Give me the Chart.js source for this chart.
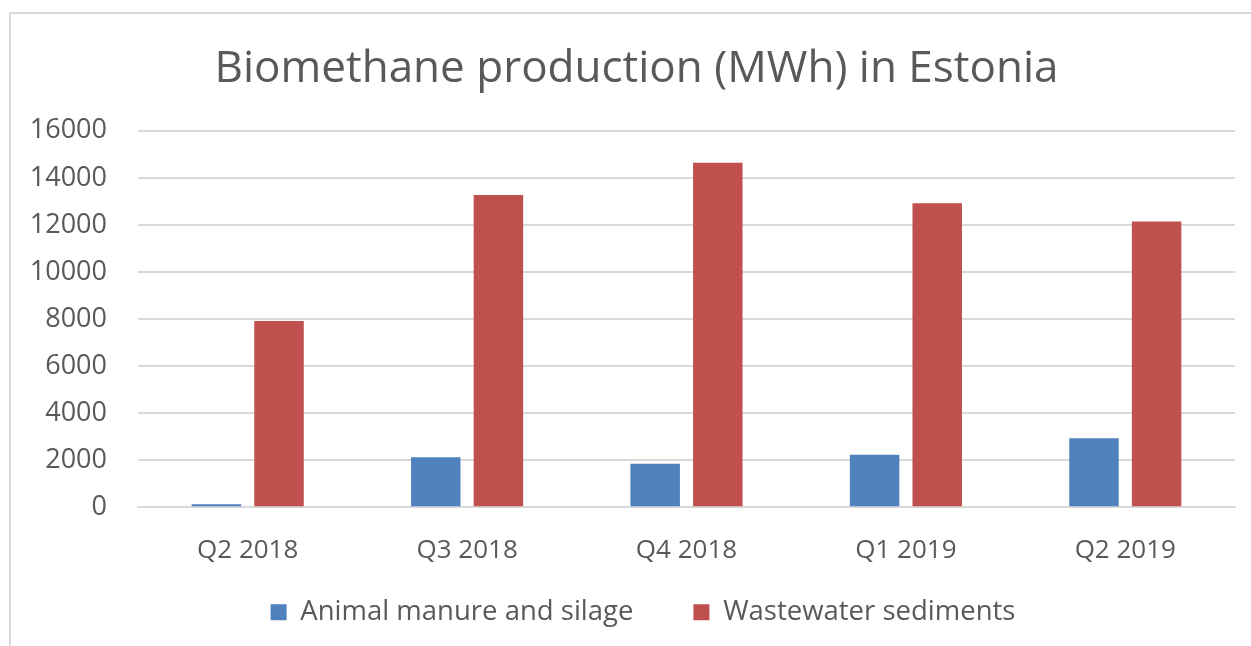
<!DOCTYPE html>
<html>
<head>
<meta charset="utf-8">
<script src="https://cdn.jsdelivr.net/npm/chart.js@4.4.0/dist/chart.umd.min.js"></script>
<style>
  html, body { margin: 0; padding: 0; background: #ffffff; }
  #wrap { position: absolute; left: 0; top: 0; width: 1251px; height: 646px; overflow: hidden; }
  #frame { position: absolute; left: 9px; top: 12px; width: 1260px; height: 660px; border: 2px solid #d9d9d9; box-sizing: border-box; }
  canvas { position: absolute; left: 0; top: 0; }
</style>
</head>
<body>
<div id="wrap">
  <div id="frame"></div>
  <canvas id="c" width="1251" height="646"></canvas>
</div>
<script>
const categories = ["Q2 2018", "Q3 2018", "Q4 2018", "Q1 2019", "Q2 2019"];
const manureSilage = [130, 2130, 1850, 2230, 2930];
const wastewaterSediments = [7920, 13270, 14640, 12920, 12150];
const yTicks = [0, 2000, 4000, 6000, 8000, 10000, 12000, 14000, 16000];

const FONT = "'Open Sans', 'Noto Sans', sans-serif";
const TEXT = "#595959";
const LEGEND_SHRINK = 56;

// Tighten the legend's reserved height and center title/legend on the frame
const arrange = {
  id: 'arrange',
  beforeLayout(chart) {
    const lg = chart.legend;
    if (lg && !lg._wrapped) {
      const fit = lg.fit;
      lg.fit = function () { fit.call(this); this.height -= LEGEND_SHRINK; };
      lg._wrapped = true;
    }
  },
  afterLayout(chart) {
    if (chart.titleBlock) { chart.titleBlock.left = 38; chart.titleBlock.right = 1235; }
    if (chart.legend) {
      chart.legend.left = 51; chart.legend.right = 1235;
      chart.legend.top -= LEGEND_SHRINK;
    }
  }
};

new Chart(document.getElementById('c'), {
  type: 'bar',
  data: {
    labels: categories,
    datasets: [
      { label: "Animal manure and silage", data: manureSilage, backgroundColor: "#4f81bd",
        categoryPercentage: 0.571, barPercentage: 0.79 },
      { label: "Wastewater sediments", data: wastewaterSediments, backgroundColor: "#c0504d",
        categoryPercentage: 0.571, barPercentage: 0.79 }
    ]
  },
  plugins: [arrange],
  options: {
    responsive: false,
    animation: false,
    devicePixelRatio: 1,
    layout: { padding: { left: 0, right: 16, top: 0, bottom: 10 } },
    plugins: {
      title: {
        display: true,
        text: "Biomethane production (MWh) in Estonia",
        color: TEXT,
        font: { family: FONT, size: 44, weight: 'normal' },
        padding: { top: 43, bottom: 35 }
      },
      legend: {
        position: 'bottom',
        labels: {
          color: TEXT,
          font: { family: FONT, size: 27.5 },
          boxWidth: 16,
          boxHeight: 16,
          padding: 60
        }
      },
      tooltip: { enabled: false }
    },
    scales: {
      x: {
        grid: { display: false, drawTicks: false },
        border: { display: true, color: "#d9d9d9", width: 2 },
        ticks: { color: TEXT, font: { family: FONT, size: 26 }, padding: 28 }
      },
      y: {
        min: 0, max: 16000,
        afterBuildTicks: (axis) => { axis.ticks = yTicks.map(v => ({ value: v })); },
        afterFit: (axis) => { axis.width = 138; },
        grid: { color: "#d9d9d9", lineWidth: 2, drawTicks: false },
        border: { display: false },
        ticks: { color: TEXT, font: { family: FONT, size: 27 }, padding: 31,
                 callback: (v) => String(v) }
      }
    }
  }
});
</script>
</body>
</html>
